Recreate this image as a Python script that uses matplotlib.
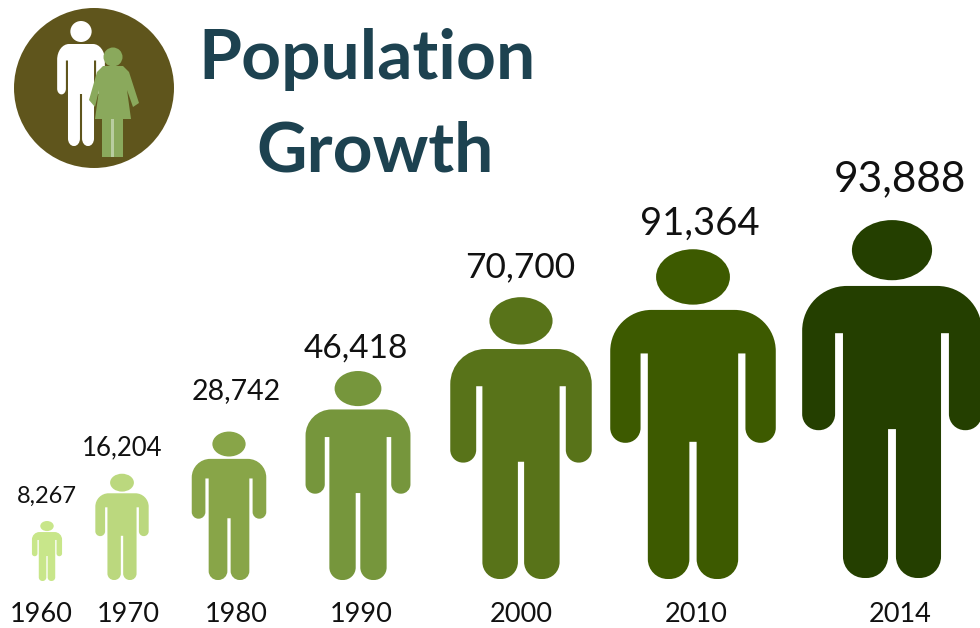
import matplotlib
matplotlib.use("Agg")
import numpy as np
import matplotlib.pyplot as plt
from matplotlib.path import Path
from matplotlib.patches import Circle, Ellipse, PathPatch, Polygon, Rectangle

years = ["1960", "1970", "1980", "1990", "2000", "2010", "2014"]
population = [8267, 16204, 28742, 46418, 70700, 91364, 93888]

# layout of the row of figures, in pixels
centers = [47, 122, 229, 358, 521, 693, 892]
baselines = [581, 580, 580, 580, 579, 579, 578]
colors = ["#c8e68a", "#bbd87e", "#88a548", "#76963c", "#587319", "#3d5a00", "#243f00"]
# figures are not strictly to scale, so nudge the power scale per figure
size_tweak = [1.0, 1.08, 0.99, 0.98, 0.97, 0.94, 1.0]
label_sizes = [17, 18.5, 20.5, 24, 25.5, 27.5, 30.5]
label_gaps = [18, 18, 33, 13, 20, 15, 29]
label_x = [47, 122, 236, 356, 520, 700, 900]
year_labels_x = [41, 128, 236, 361, 521, 696, 900]

plt.rcParams["font.family"] = ["Lato", "DejaVu Sans"]

KAPPA = 0.5523


def icon_height(value):
    return 60 * (value / 8267) ** 0.735


def rounded_outline(corners):
    verts, codes = [], []
    n = len(corners)
    for i, (x, y, r) in enumerate(corners):
        p = np.array([x, y], dtype=float)
        if r == 0:
            verts.append(p)
            codes.append(Path.LINETO)
            continue
        prev = np.array(corners[i - 1][:2], dtype=float)
        nxt = np.array(corners[(i + 1) % n][:2], dtype=float)
        a = p + r * (prev - p) / np.linalg.norm(prev - p)
        b = p + r * (nxt - p) / np.linalg.norm(nxt - p)
        # circular arc as one cubic
        verts += [a, a + KAPPA * (p - a), b + KAPPA * (p - b), b]
        codes += [Path.LINETO, Path.CURVE4, Path.CURVE4, Path.CURVE4]
    codes[0] = Path.MOVETO
    verts.append(verts[0])
    codes.append(Path.CLOSEPOLY)
    return np.array(verts), codes


def draw_person(ax, cx, base, h, color, xscale=1.0):
    # outline in units of the figure height, right half then mirrored
    right = [
        (0.251, 0.816, 0.125),
        (0.251, 0.413, 0.045),
        (0.159, 0.413, 0.045),
        (0.159, 0.684, 0),
        (0.137, 0.684, 0),
        (0.137, 0.0, 0.06),
        (0.011, 0.0, 0.06),
        (0.011, 0.416, 0),
    ]
    corners = right + [(-x, y, r) for x, y, r in reversed(right)]
    # start on the left leg gap so the first corner is a plain one
    corners = corners[8:] + corners[:8]
    verts, codes = rounded_outline(corners)
    verts = verts * [h * xscale, -h] + [cx, base]
    ax.add_patch(PathPatch(Path(verts, codes), facecolor=color, edgecolor="none"))
    ax.add_patch(Ellipse((cx, base - 0.916 * h), 0.224 * h * xscale, 0.168 * h,
                         facecolor=color, edgecolor="none"))


fig = plt.figure(figsize=(9.8, 6.28), dpi=100)
ax = fig.add_axes([0, 0, 1, 1])
ax.set_xlim(0, 980)
ax.set_ylim(628, 0)
ax.axis("off")

# badge with the couple
ax.add_patch(Circle((94, 88), 80, facecolor="#5f551c", edgecolor="none"))
draw_person(ax, 81, 146, 125, "white", xscale=0.76)
woman = "#8aa95c"
ax.add_patch(Circle((113, 57), 9.5, facecolor=woman, edgecolor="none"))
ax.add_patch(Polygon([(103, 66), (123, 66), (129, 72), (139, 103), (133, 107), (127, 90),
                      (131, 119), (95, 119), (99, 90), (95, 107), (89, 100), (97, 72)],
                     closed=True, facecolor=woman, edgecolor="none"))
ax.add_patch(Rectangle((102, 119), 21, 38, facecolor=woman, edgecolor="none"))
ax.add_patch(Rectangle((111, 119), 3, 38, facecolor="#b9cda0", edgecolor="none"))

ax.text(366.5, 79, "Population", color="#1d4250", fontsize=50, fontweight="bold",
        ha="center", va="baseline")
ax.text(375.5, 171, "Growth", color="#1d4250", fontsize=50, fontweight="bold",
        ha="center", va="baseline")

for i, value in enumerate(population):
    h = icon_height(value) * size_tweak[i]
    draw_person(ax, centers[i], baselines[i], h, colors[i])
    ax.text(label_x[i], baselines[i] - h - label_gaps[i], f"{value:,}", color="#111111",
            fontsize=label_sizes[i], ha="center", va="baseline")
    ax.text(year_labels_x[i], 615, years[i], color="#111111", fontsize=19.5,
            ha="center", va="center")

fig.savefig("out.png", dpi=100)
